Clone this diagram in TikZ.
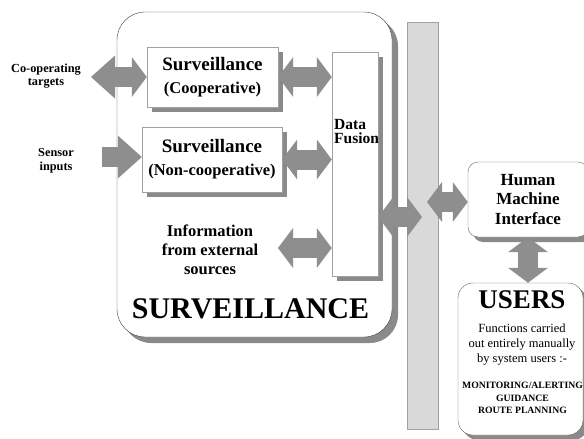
\documentclass[tikz,border=0pt]{standalone}
\usepackage{fontspec}
\setmainfont{Liberation Serif}
\usetikzlibrary{arrows.meta,shadows}
\definecolor{arrowgray}{HTML}{8E8E8E}
\definecolor{shadegray}{HTML}{8A8A8A}
\definecolor{bargray}{HTML}{D9D9D9}
\definecolor{linegray}{HTML}{A0A0A0}
\tikzset{
  fathead/.tip={Triangle[length=15pt,width=40pt,line width=0pt,fill=arrowgray]},
  longhead/.tip={Triangle[length=24pt,width=43pt,line width=0pt,fill=arrowgray]},
  box/.style={shape=rectangle,draw=linegray,fill=white,inner sep=0pt,
    drop shadow={shadow xshift=5pt,shadow yshift=-5pt,fill=shadegray,opacity=1}},
  fat/.style={color=arrowgray,line width=20pt},
}
\begin{document}
\begin{tikzpicture}[x=1pt,y=-1pt]
\useasboundingbox (0,0) rectangle (584,439);
\node(surv) at (254.5,174.5)[box,draw=black!75,rounded corners=28pt,minimum width=275pt,minimum height=325pt,
  drop shadow={shadow xshift=6pt,shadow yshift=-6pt,fill=shadegray,opacity=1}]{};
\node(coop) at (212.5,77)[box,minimum width=131pt,minimum height=60pt,align=center,
  font=\bfseries\fontsize{19}{23}\selectfont]{Surveillance\\{\fontsize{16.5}{23}\selectfont (Cooperative)}};
\node(noncoop) at (212,159.5)[box,minimum width=140pt,minimum height=65pt,align=center,
  font=\bfseries\fontsize{19}{23}\selectfont]{Surveillance\\{\fontsize{16.5}{23}\selectfont (Non-cooperative)}};
\node(df) at (355,164)[box,minimum width=46pt,minimum height=224pt]{};
\node(dflabel) at (334,119.5)[anchor=north west,inner sep=0pt,align=left,
  font=\bfseries\fontsize{15.5}{14}\selectfont]{Data\\Fusion};
\node(bus) at (422.5,225.5)[shape=rectangle,draw=linegray,fill=bargray,minimum width=31pt,minimum height=407pt]{};
\node(hmi) at (528,199.5)[box,draw=black!60,rounded corners=10pt,minimum width=120pt,minimum height=75pt,align=center,
  font=\bfseries\fontsize{17}{19.7}\selectfont]{Human\\Machine\\Interface};
\node(users) at (520.5,359)[box,draw=black!60,rounded corners=15pt,minimum width=125pt,minimum height=152pt,
  drop shadow={shadow xshift=3pt,shadow yshift=-3pt,fill=shadegray,opacity=1}]{};
% labels
\node(cooplabel) at (46,75.7)[align=center,font=\bfseries\fontsize{12.3}{13}\selectfont]{Co-operating\\targets};
\node(sensorlabel) at (56,160.6)[align=center,font=\bfseries\fontsize{12.3}{13.3}\selectfont]{Sensor\\inputs};
\node(infolabel) at (210,249.4)[align=center,font=\bfseries\fontsize{16.5}{19}\selectfont]{Information\\from external\\sources};
\node(survlabel) at (250.5,318)[anchor=base,font=\bfseries\fontsize{30}{36}\selectfont]{SURVEILLANCE};
\node(userlabel) at (522,308.3)[anchor=base,font=\bfseries\fontsize{27}{32}\selectfont]{USERS};
\node(funclabel) at (522,344.1)[align=center,font=\fontsize{12.5}{15}\selectfont]{Functions carried\\out entirely manually\\by system users :-};
\node(tasklabel) at (522.5,397.9)[align=center,font=\bfseries\fontsize{9.7}{12.3}\selectfont]{MONITORING/ALERTING\\GUIDANCE\\ROUTE PLANNING};
% free ends of the connectors
\coordinate(cooptip) at (91,77);
\coordinate(sensortail) at (102,157);
\coordinate(infotip) at (278,248);
\coordinate(bustip) at (422,217);
\coordinate(busout) at (427,202);
\path [fat]
  (cooptip)            edge [longhead-fathead]  (coop.west)
  (sensortail)         edge [-longhead]         (sensortail -| noncoop.west)
  (coop.east)          edge [fathead-fathead]   (coop.east -| df.west)
  (noncoop.east)       edge [fathead-fathead]   (noncoop.east -| df.west)
  (infotip)            edge [fathead-fathead]   (infotip -| df.west)
  (bustip -| df.east)  edge [fathead-fathead]   (bustip)
  (busout)             edge [fathead-fathead]   (busout -| hmi.west)
  (hmi.south)          edge [fathead-fathead]   (hmi.south |- users.north);
\end{tikzpicture}
\end{document}
